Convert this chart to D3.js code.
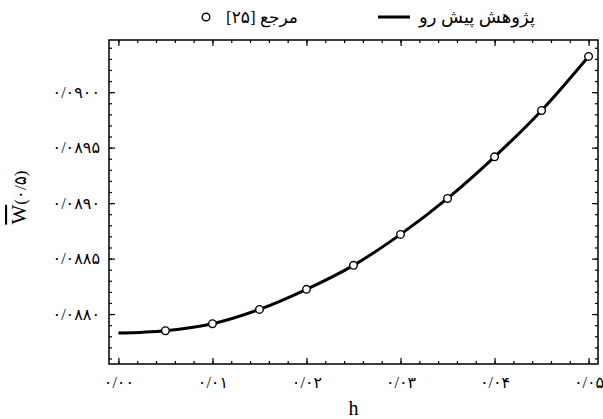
<!DOCTYPE html>
<html>
<head>
<meta charset="utf-8">
<script src="https://cdn.jsdelivr.net/npm/d3@7"></script>
<style>
  body { margin: 0; background: #fff; }
  text { font-family: "Liberation Serif", "DejaVu Serif", "DejaVu Sans", serif; fill: #000; }
</style>
</head>
<body>
<script>
// DATA
const hValues = [0.000, 0.005, 0.010, 0.015, 0.020, 0.025, 0.030, 0.035, 0.040, 0.045, 0.050];
const presentWork = [0.087829, 0.087850, 0.087913, 0.088042, 0.088223, 0.088439, 0.088718, 0.089042, 0.089417, 0.089835, 0.090322];
const refH = [0.005, 0.010, 0.015, 0.020, 0.025, 0.030, 0.035, 0.040, 0.045, 0.050];
const refValues = [0.087850, 0.087913, 0.088042, 0.088223, 0.088439, 0.088718, 0.089042, 0.089417, 0.089835, 0.090322];
const xTicks = [0, 0.01, 0.02, 0.03, 0.04, 0.05];
const xTickLabels = ["۰/۰۰", "۰/۰۱", "۰/۰۲", "۰/۰۳", "۰/۰۴", "۰/۰۵"];
const yTicks = [0.0880, 0.0885, 0.0890, 0.0895, 0.0900];
const yTickLabels = ["۰/۰۸۸۰", "۰/۰۸۸۵", "۰/۰۸۹۰", "۰/۰۸۹۵", "۰/۰۹۰۰"];
const legendLabels = ["پژوهش پیش رو", "مرجع [۲۵]"];

// SIZES
const margin = {top: 40, right: 5, bottom: 55, left: 109};
const W = 603, H = 419;
const width = W - margin.left - margin.right;
const height = H - margin.top - margin.bottom;

const svg = d3.select("body").append("svg")
  .attr("width", W)
  .attr("height", H)
  .append("g")
  .attr("transform", `translate(${margin.left},${margin.top})`);

// SCALES
const x = d3.scaleLinear().domain([-0.001, 0.051]).range([0, width]);
const y = d3.scaleLinear().domain([0.08755, 0.09047]).range([height, 0]);

const xMinor = d3.range(0, 0.0501, 0.002);
const yMinor = d3.range(0.0876, 0.09045, 0.0001);

// AXES (inward ticks on all sides)
function styleAxis(g) {
  g.select(".domain").remove();
  g.selectAll("line").attr("stroke", "#000").attr("stroke-width", 1.2);
}
svg.append("g").attr("transform", `translate(0,${height})`)
  .call(d3.axisBottom(x).tickValues(xMinor).tickSize(-3).tickFormat("")).call(styleAxis);
svg.append("g").attr("transform", `translate(0,${height})`)
  .call(d3.axisBottom(x).tickValues(xTicks).tickSize(-6).tickPadding(13)
    .tickFormat((d, i) => xTickLabels[i]))
  .call(styleAxis)
  .selectAll("text").style("font-size", "16px").attr("direction", "ltr");
svg.append("g")
  .call(d3.axisTop(x).tickValues(xMinor).tickSize(-3).tickFormat("")).call(styleAxis);
svg.append("g")
  .call(d3.axisTop(x).tickValues(xTicks).tickSize(-6).tickFormat("")).call(styleAxis);

svg.append("g")
  .call(d3.axisLeft(y).tickValues(yMinor).tickSize(-3).tickFormat("")).call(styleAxis);
svg.append("g")
  .call(d3.axisLeft(y).tickValues(yTicks).tickSize(-6).tickPadding(9)
    .tickFormat((d, i) => yTickLabels[i]))
  .call(styleAxis)
  .selectAll("text").style("font-size", "16px").attr("direction", "ltr");
svg.append("g").attr("transform", `translate(${width},0)`)
  .call(d3.axisRight(y).tickValues(yMinor).tickSize(-3).tickFormat("")).call(styleAxis);
svg.append("g").attr("transform", `translate(${width},0)`)
  .call(d3.axisRight(y).tickValues(yTicks).tickSize(-6).tickFormat("")).call(styleAxis);

// FRAME
svg.append("rect")
  .attr("width", width)
  .attr("height", height)
  .attr("fill", "none")
  .attr("stroke", "#000")
  .attr("stroke-width", 1.5);

// LINE
svg.append("path")
  .datum(hValues.map((h, i) => [h, presentWork[i]]))
  .attr("fill", "none")
  .attr("stroke", "#000")
  .attr("stroke-width", 3)
  .attr("d", d3.line()
    .curve(d3.curveMonotoneX)
    .x(d => x(d[0]))
    .y(d => y(d[1])));

// REFERENCE POINTS
svg.selectAll(".pt")
  .data(refH.map((h, i) => [h, refValues[i]]))
  .enter().append("circle")
  .attr("class", "pt")
  .attr("cx", d => x(d[0]))
  .attr("cy", d => y(d[1]))
  .attr("r", 3.8)
  .attr("fill", "#fff")
  .attr("stroke", "#000")
  .attr("stroke-width", 1.4);

// X LABEL
svg.append("text")
  .attr("x", x(0.025))
  .attr("y", height + 51)
  .attr("text-anchor", "middle")
  .style("font-size", "20px")
  .text("h");

// Y LABEL
const yLab = svg.append("text")
  .attr("transform", `translate(${-83},${y(0.08905)}) rotate(-90)`)
  .attr("text-anchor", "middle")
  .attr("direction", "ltr")
  .style("font-size", "21px");
yLab.append("tspan").style("text-decoration", "overline").text("W");
yLab.append("tspan").style("font-size", "17px").text("(۰/۵)");

// LEGEND
const legend = svg.append("g").attr("transform", `translate(0,${-23})`);
legend.append("line")
  .attr("x1", 269).attr("x2", 301)
  .attr("y1", 0).attr("y2", 0)
  .attr("stroke", "#000")
  .attr("stroke-width", 3);
legend.append("text")
  .attr("x", 368).attr("y", 6)
  .attr("text-anchor", "middle")
  .attr("direction", "rtl")
  .style("font-size", "18px")
  .text(legendLabels[0]);
legend.append("circle")
  .attr("cx", 97).attr("cy", 0).attr("r", 3.8)
  .attr("fill", "#fff").attr("stroke", "#000").attr("stroke-width", 1.4);
legend.append("text")
  .attr("x", 153).attr("y", 6)
  .attr("text-anchor", "middle")
  .attr("direction", "rtl")
  .style("font-size", "17px")
  .text(legendLabels[1]);
</script>
</body>
</html>
